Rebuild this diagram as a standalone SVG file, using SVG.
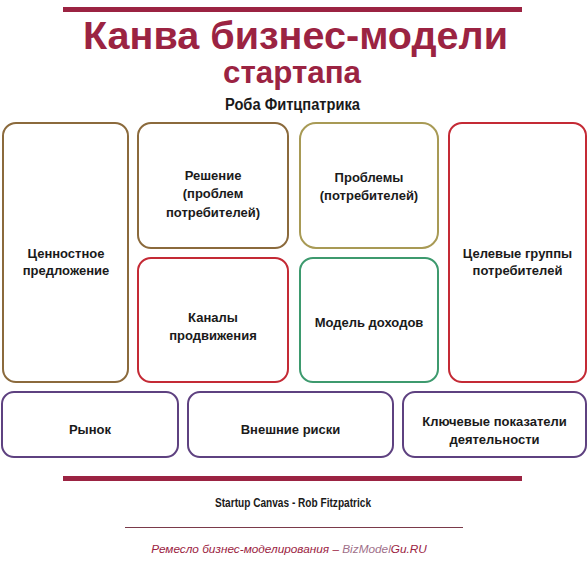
<svg xmlns="http://www.w3.org/2000/svg" width="588" height="565" viewBox="0 0 588 565">
<style>
.box{fill:#ffffff;stroke-width:2}
.brown{stroke:#8b6a3c}
.olive{stroke:#a89a55}
.red{stroke:#c42a35}
.green{stroke:#3d9a6e}
.purple{stroke:#5e4180}
.lbl{font-family:"Liberation Sans",Arial,sans-serif;font-size:13px;font-weight:bold;fill:#1a1a1a;text-anchor:middle}
.title{font-family:"Liberation Sans",Arial,sans-serif;font-weight:bold;fill:#9b2342;text-anchor:middle}
</style>
<rect width="588" height="565" fill="#ffffff"/>
<g id="header">
<rect x="63" y="7" width="459" height="5" fill="#9b2342"/>
<text class="title" x="295.5" y="48.5" font-size="39" textLength="425" lengthAdjust="spacingAndGlyphs">Канва бизнес-модели</text>
<text class="title" x="292" y="83" font-size="32" textLength="138" lengthAdjust="spacingAndGlyphs">стартапа</text>
<text x="292.5" y="110" font-family="Liberation Sans,Arial,sans-serif" font-size="16" font-weight="bold" fill="#1a1a1a" text-anchor="middle" textLength="135" lengthAdjust="spacingAndGlyphs">Роба Фитцпатрика</text>
</g>
<g id="value">
<rect class="box brown" x="3" y="123" width="125" height="259" rx="13"/>
<text class="lbl" x="66" y="258">Ценностное</text>
<text class="lbl" x="66" y="275">предложение</text>
</g>
<g id="solution">
<rect class="box brown" x="138" y="123" width="150" height="125" rx="13"/>
<text class="lbl" x="213" y="180">Решение</text>
<text class="lbl" x="213" y="198">(проблем</text>
<text class="lbl" x="213" y="216.5">потребителей)</text>
</g>
<g id="channels">
<rect class="box red" x="138" y="258" width="150" height="124" rx="13"/>
<text class="lbl" x="213" y="322">Каналы</text>
<text class="lbl" x="213" y="340">продвижения</text>
</g>
<g id="problems">
<rect class="box olive" x="300" y="123" width="138" height="125" rx="16"/>
<text class="lbl" x="369" y="182">Проблемы</text>
<text class="lbl" x="369" y="200">(потребителей)</text>
</g>
<g id="revenue">
<rect class="box green" x="300" y="258" width="138" height="124" rx="13"/>
<text class="lbl" x="369" y="327">Модель доходов</text>
</g>
<g id="segments">
<rect class="box red" x="449" y="123" width="137" height="259" rx="13"/>
<text class="lbl" x="517.5" y="258">Целевые группы</text>
<text class="lbl" x="517.5" y="275">потребителей</text>
</g>
<g id="market">
<rect class="box purple" x="2" y="392" width="176" height="65" rx="12"/>
<text class="lbl" x="90" y="434">Рынок</text>
</g>
<g id="risks">
<rect class="box purple" x="188" y="392" width="205" height="65" rx="12"/>
<text class="lbl" x="290.5" y="434">Внешние риски</text>
</g>
<g id="metrics">
<rect class="box purple" x="403" y="392" width="183" height="65" rx="12"/>
<text class="lbl" x="494.5" y="426">Ключевые показатели</text>
<text class="lbl" x="494.5" y="443.5">деятельности</text>
</g>
<g id="connectors"></g>
<g id="footer">
<rect x="63" y="476" width="459" height="5" fill="#9b2342"/>
<text x="293" y="507" font-family="Liberation Sans,Arial,sans-serif" font-size="13" font-weight="bold" fill="#1a1a1a" text-anchor="middle" textLength="156" lengthAdjust="spacingAndGlyphs">Startup Canvas - Rob Fitzpatrick</text>
<line x1="125" y1="527.5" x2="463" y2="527.5" stroke="#7a3a4a" stroke-width="1.2"/>
<text x="289" y="553" font-family="Liberation Sans,Arial,sans-serif" font-size="11.8" font-style="italic" fill="#9b2342" text-anchor="middle">Ремесло бизнес-моделирования – <tspan fill="#a0708a">BizModel</tspan>Gu.RU</text>
</g>
</svg>
